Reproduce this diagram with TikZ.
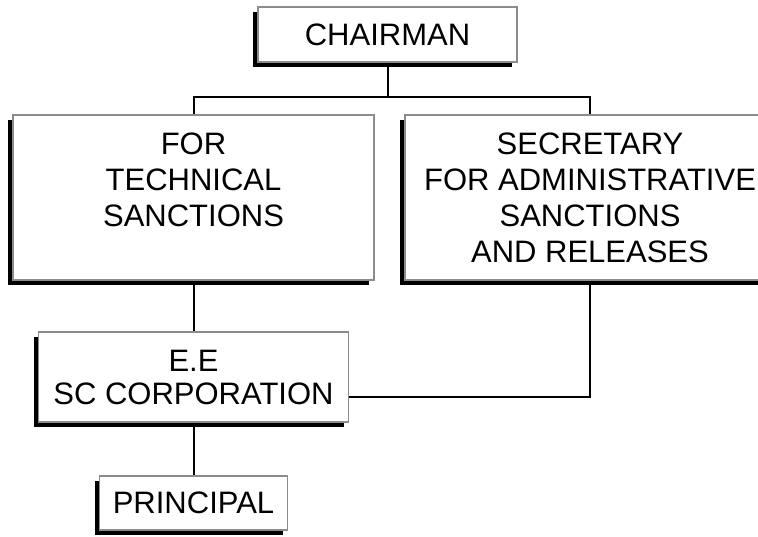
\documentclass[tikz,border=0pt]{standalone}
\usepackage{fontspec}
\setmainfont{Liberation Sans}
\usepackage{tikz}
\usetikzlibrary{positioning,shadows}
\definecolor{boxline}{RGB}{140,140,140}
\tikzset{
    orgbox/.style={draw=boxline, line width=1.5pt, fill=white, align=center, inner sep=0pt,
        font=\fontsize{31}{36}\selectfont,
        drop shadow={shadow xshift=-5pt, shadow yshift=-5pt, fill=black, opacity=1}},
    link/.style={draw=black, line width=2pt}
}

\begin{document}
\begin{tikzpicture}[x=1pt, y=-1pt]
    \clip (0,0) rectangle (758,536);
    \fill[white] (0,0) rectangle (758,536);

    % Chairman on top
    \node[orgbox, minimum width=259pt, minimum height=55pt] (chair) at (387.5,34.5) {CHAIRMAN};

    % Two secretaries
    \node[orgbox, minimum width=361pt, minimum height=165pt] (tech) at (193.5,197.5) {FOR\\TECHNICAL\\SANCTIONS\\\mbox{}};
    \node[orgbox, minimum width=370pt, minimum height=165pt] (admin) at (590,197.5) {SECRETARY\\FOR ADMINISTRATIVE\\SANCTIONS\\AND RELEASES};

    % Corporation and principal
    \node[orgbox, minimum width=310pt, minimum height=90pt, font=\fontsize{31}{33}\selectfont] (corp) at (193.5,377) {E.E\\SC CORPORATION};
    \node[orgbox, minimum width=188pt, minimum height=54pt] (principal) at (193.5,503) {PRINCIPAL};

    % Connectors
    \coordinate (split) at (387.5,97);
    \draw[link] (chair.south) -- (split);
    \draw[link] (tech.north) |- (split) -| (admin.north);
    \draw[link] (tech.south) -- (corp.north);
    \draw[link] (admin.south) |- ([yshift=-20pt]corp.east);
    \draw[link] (corp.south) -- (principal.north);
\end{tikzpicture}
\end{document}
